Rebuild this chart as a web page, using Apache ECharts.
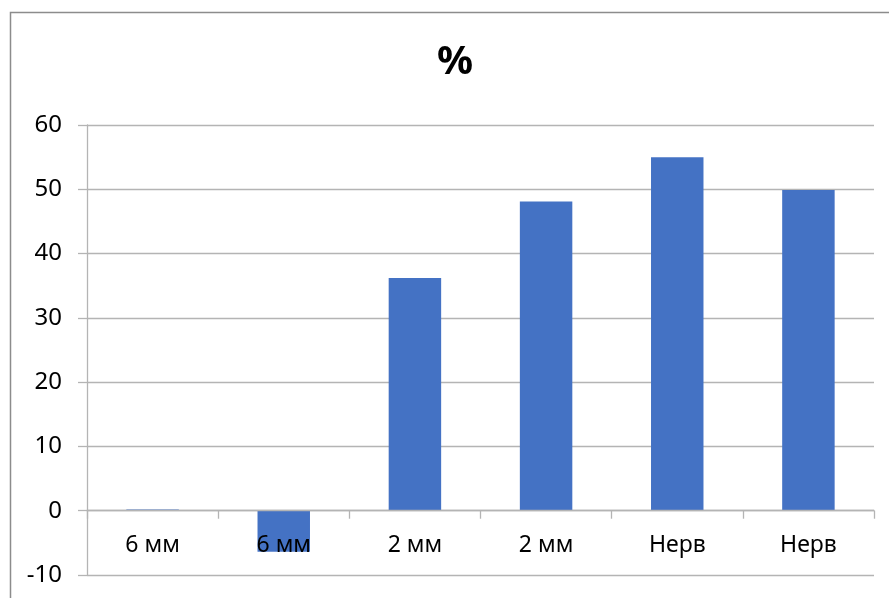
<!DOCTYPE html>
<html>
<head>
<meta charset="utf-8">
<script src="https://cdn.jsdelivr.net/npm/echarts@6/dist/echarts.min.js"></script>
<style>
  html, body { margin: 0; padding: 0; background: #fff; }
  #chart { width: 889px; height: 598px; }
</style>
</head>
<body>
<div id="chart"></div>
<script>
// Categories along the horizontal axis
const categories = ['6 мм', '6 мм', '2 мм', '2 мм', 'Нерв', 'Нерв'];
// Percent values per category
const percentValues = [0.2, -6.4, 36.2, 48.1, 55.0, 49.9];
// Value axis range and step
const yMin = -10;
const yMax = 60;
const yStep = 10;

const chart = echarts.init(document.getElementById('chart'), null, { renderer: 'canvas' });

const gridColor = '#b4b4b4';
const font = 'Noto Sans, sans-serif';
const gridTop = 125;
const gridBottom = 23;
const gridHeight = 598 - gridTop - gridBottom;
// Shift the category axis up so it sits on the zero line of the value axis
const zeroOffset = -(0 - yMin) / (yMax - yMin) * gridHeight;

chart.setOption({
  animation: false,
  backgroundColor: '#fff',
  graphic: [{
    type: 'rect',
    shape: { x: 10.5, y: 12.5, width: 1000, height: 1000 },
    style: { fill: 'none', stroke: '#8c8c8c', lineWidth: 1.5 },
    silent: true
  }, {
    type: 'text',
    x: 455,
    y: 63,
    style: {
      text: '%',
      fontFamily: font,
      fontSize: 40,
      fontWeight: 'bold',
      fill: '#000',
      align: 'center',
      verticalAlign: 'middle'
    },
    silent: true
  }],
  grid: { left: 87, right: 15, top: gridTop, bottom: gridBottom, containLabel: false, outerBoundsMode: 'none' },
  xAxis: {
    type: 'category',
    data: categories,
    z: 5,
    offset: zeroOffset,
    boundaryGap: true,
    axisLine: { show: true, onZero: false, lineStyle: { color: gridColor, width: 1.3 } },
    axisTick: { show: true, length: 8, alignWithLabel: false, lineStyle: { color: gridColor, width: 1.3 } },
    axisLabel: { margin: 23, fontFamily: font, fontSize: 23, color: '#000' },
    splitLine: { show: false }
  },
  yAxis: {
    type: 'value',
    min: yMin,
    max: yMax,
    interval: yStep,
    axisLine: { show: true, lineStyle: { color: gridColor, width: 1.3 } },
    axisTick: { show: true, length: 9, inside: false, lineStyle: { color: gridColor, width: 1.3 } },
    axisLabel: { margin: 25, fontFamily: font, fontSize: 24, color: '#000' },
    splitLine: { show: true, lineStyle: { color: gridColor, width: 1.3 } }
  },
  series: [{
    type: 'bar',
    data: percentValues,
    barWidth: '40%',
    itemStyle: { color: '#4472C4' }
  }]
});
</script>
</body>
</html>
